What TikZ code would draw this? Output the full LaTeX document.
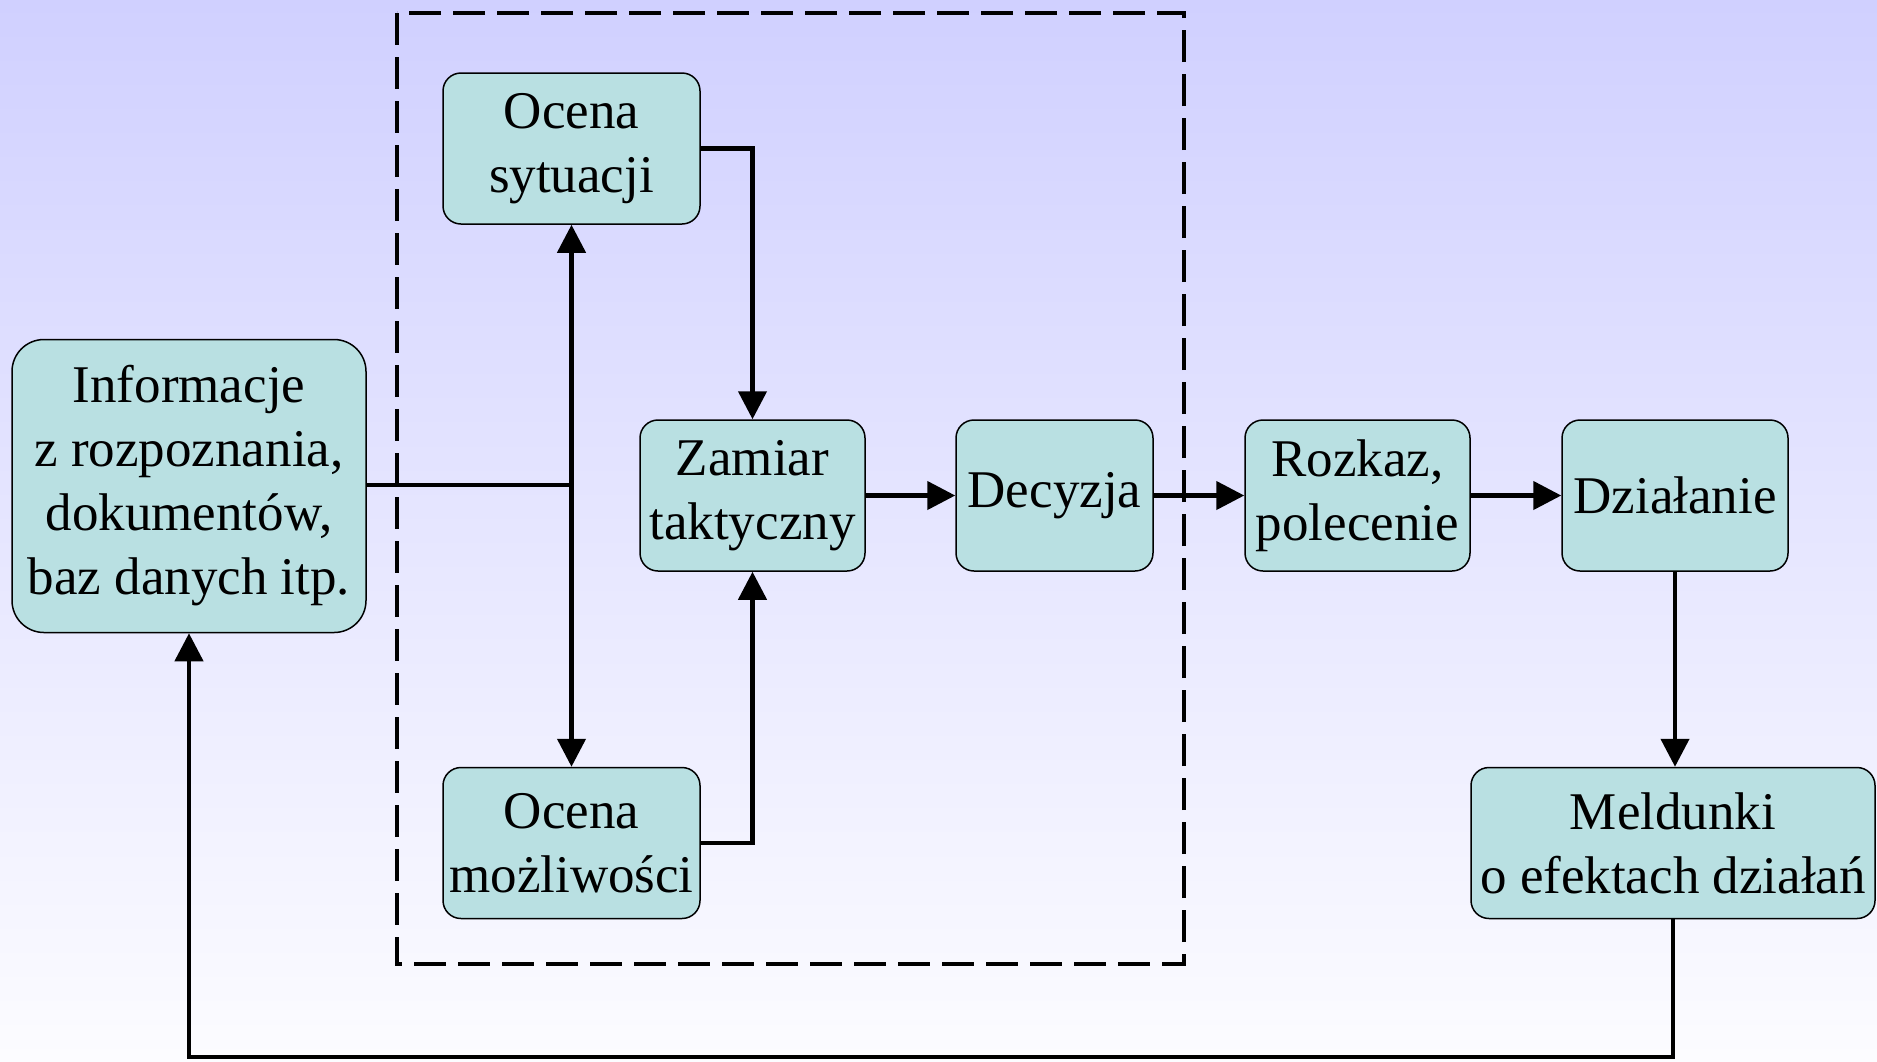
\documentclass[tikz,border=0pt]{standalone}
\usepackage{fontspec}
\setmainfont{Liberation Serif}
\usetikzlibrary{arrows.meta}
\definecolor{boxfill}{RGB}{185,224,226}
\definecolor{bgtop}{RGB}{208,208,255}
\definecolor{bgbot}{RGB}{252,252,255}

\begin{document}
\begin{tikzpicture}[x=0.5pt,y=-0.5pt,
    box/.style={draw,line width=0.75pt,fill=boxfill,rounded corners=9pt,inner sep=0pt,
      align=center,minimum height=75.5pt,font=\fontsize{26.5}{32}\selectfont},
    wire/.style={line width=2.2pt},
    link/.style={wire,-{Triangle[length=14pt,width=14pt]}}]
    \shade[top color=bgtop,bottom color=bgbot] (0,0) rectangle (1877,1061);
    \useasboundingbox (0,0) rectangle (1877,1061);
    \draw[line width=2pt,dash pattern=on 16pt off 6pt] (397,13) rectangle (1184,964);
    % boxes
    \node[box,rounded corners=16pt,minimum width=177pt,minimum height=146.5pt] (info) at (189,486)
      {Informacje\\z rozpoznania,\\dokumentów,\\baz danych itp.};
    \node[box,minimum width=128.5pt] (sit) at (571.5,148.5) {Ocena\\sytuacji};
    \node[box,minimum width=128.5pt] (mozl) at (571.5,843) {Ocena\\możliwości};
    \node[box,minimum width=112.5pt] (zam) at (752.5,495.5) {Zamiar\\taktyczny};
    \node[box,minimum width=98.5pt] (dec) at (1054.5,495.5) {Decyzja};
    \node[box,minimum width=112.5pt] (rozk) at (1357.5,495.5) {Rozkaz,\\polecenie};
    \node[box,minimum width=113pt] (dzial) at (1675,495.5) {Działanie};
    \node[box,minimum width=202pt] (meld) at (1673,843) {Meldunki\\o efektach działań};
    % connectors
    \coordinate (j) at (sit.south |- 0,485);
    \draw[wire] (info.east |- j) -- (j);
    \draw[link] (j) -- (sit.south);
    \draw[link] (j) -- (mozl.north);
    \draw[link] (sit.east) -| (zam.north);
    \draw[link] (mozl.east) -| (zam.south);
    \draw[link] (zam) -- (dec);
    \draw[link] (dec) -- (rozk);
    \draw[link] (rozk) -- (dzial);
    \draw[link] (dzial.south) -- (dzial.south |- meld.north);
    \draw[link] (meld.south) -- (meld.south |- 0,1057) -| (info.south);
\end{tikzpicture}
\end{document}
